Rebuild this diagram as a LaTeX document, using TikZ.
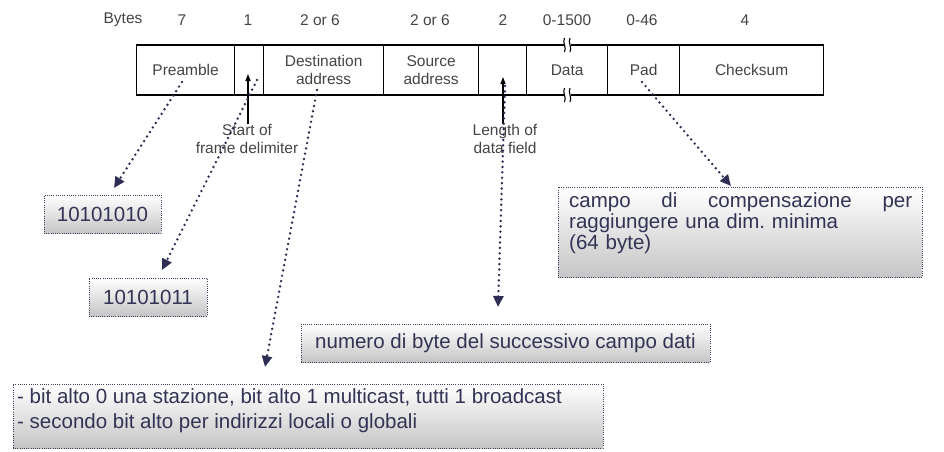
\documentclass[tikz,border=0pt]{standalone}
\usepackage{fontspec}
\setmainfont{Liberation Sans}
\usetikzlibrary{arrows.meta}
\definecolor{navy}{HTML}{333355}
\definecolor{hdr}{HTML}{444444}
\definecolor{dotc}{HTML}{2E2E55}
\frenchspacing
\begin{document}
\begin{tikzpicture}[x=1pt,y=-1pt,
  field/.style={draw=black,line width=1.3pt,minimum height=50pt,inner sep=0pt,anchor=west,
    font=\fontsize{15.5}{18}\selectfont,text=hdr,align=center},
  hdrtext/.style={font=\fontsize{15.5}{18}\selectfont,text=hdr,inner sep=0pt},
  notebox/.style={draw=navy!85!gray,line width=0.9pt,dash pattern=on 0.9pt off 1.3pt,
    top color=white,bottom color=gray!45,inner sep=0pt,minimum height=38pt},
  notetext/.style={font=\fontsize{20.5}{21}\selectfont,text=navy,inner sep=0pt},
  dotarrow/.style={draw=dotc,line width=2.7pt,line cap=round,dash pattern=on 0pt off 5.4pt,
    -{Triangle[length=11pt,width=10pt]}},
  solidarrow/.style={draw=black,line width=1.4pt,-{Triangle[length=7pt,width=5pt]}}
]
\useasboundingbox (0,0) rectangle (944,451);

% header
\node[hdrtext] (hb) at (123,20) {Bytes};
\node[hdrtext] (h1) at (182,20) {7};
\node[hdrtext] (h2) at (248,20) {1};
\node[hdrtext] (h3) at (320,20) {2 or 6};
\node[hdrtext] (h4) at (430,20) {2 or 6};
\node[hdrtext] (h5) at (503,20) {2};
\node[hdrtext] (h6) at (567,20) {0-1500};
\node[hdrtext] (h7) at (642,20) {0-46};
\node[hdrtext] (h8) at (745,20) {4};

% frame fields
\node[field,minimum width=98pt]  (pre) at (136,70) {Preamble};
\node[field,minimum width=29pt]  (sfd) at (234,70) {};
\node[field,minimum width=120pt] (dst) at (263,70) {Destination\\address};
\node[field,minimum width=95pt]  (src) at (383,70) {Source\\address};
\node[field,minimum width=48pt]  (len) at (478,70) {};
\node[field,minimum width=81pt]  (dat) at (526,70) {Data};
\node[field,minimum width=72pt]  (pad) at (607,70) {Pad};
\node[field,minimum width=144pt] (chk) at (679,70) {Checksum};

% break marks on Data
\fill[white] (563.5,43) rectangle (570.5,47);
\fill[white] (563.5,93) rectangle (570.5,97);
\foreach \yy in {45,95}{
  \draw[black,line width=1.1pt] (564.5,\yy-7) .. controls (562,\yy-3) and (567,\yy+3) .. (564.5,\yy+7);
  \draw[black,line width=1.1pt] (570,\yy-7) .. controls (567.5,\yy-3) and (572.5,\yy+3) .. (570,\yy+7);
}

% solid arrows and labels
\node[hdrtext,align=center] (sfdlab) at (247,139) {Start of\\frame delimiter};
\node[hdrtext,align=center] (lenlab) at (505,139) {Length of\\data field};
\coordinate (sfdtip) at (248,74);
\coordinate (lentip) at (503,77);
\draw[solidarrow] (sfdlab.north -| sfdtip) -- (sfdtip);
\draw[solidarrow] (lenlab.north -| lentip) -- (lentip);

% note boxes
\node[notebox,minimum width=117pt] (b1) at (102.5,214) {};
\node[notetext] (b1t) at (b1) {10101010};
\node[notebox,minimum width=118pt] (b2) at (148,297) {};
\node[notetext] (b2t) at (b2) {10101011};
\node[notebox,minimum width=409pt] (b4) at (505.5,343) {};
\node[notetext] (b4t) at (b4) {numero di byte del successivo campo dati};
\node[notebox,minimum width=364pt,minimum height=90pt] (b5) at (740,232) {};
\node[notetext,anchor=north west,text width=343pt,align=left] (b5t) at (569,192)
  {campo\hfill di\hfill compensazione\hfill per\\raggiungere una dim. minima\\(64 byte)};
\node[notebox,minimum width=590pt,minimum height=64pt] (b3) at (308,416) {};
\node[notetext,anchor=west,align=left,font=\fontsize{20.5}{25}\selectfont] (b3t) at (17,411)
  {- bit alto 0 una stazione, bit alto 1 multicast, tutti 1 broadcast\\- secondo bit alto per indirizzi locali o globali};

% dotted arrows
\coordinate (s1) at (182,82);  \coordinate (e1) at (114,188);
\coordinate (s2) at (257,80);  \coordinate (e2) at (162,270);
\coordinate (s3) at (317,90);  \coordinate (e3) at (265,367);
\coordinate (s4) at (505,86);  \coordinate (e4) at (498,307);
\coordinate (s5) at (642,82);  \coordinate (e5) at (731,186);
\draw[dotarrow] (s1) -- (e1);
\draw[dotarrow] (s2) -- (e2);
\draw[dotarrow] (s3) -- (e3);
\draw[dotarrow] (s4) -- (e4);
\draw[dotarrow] (s5) -- (e5);
\end{tikzpicture}
\end{document}
